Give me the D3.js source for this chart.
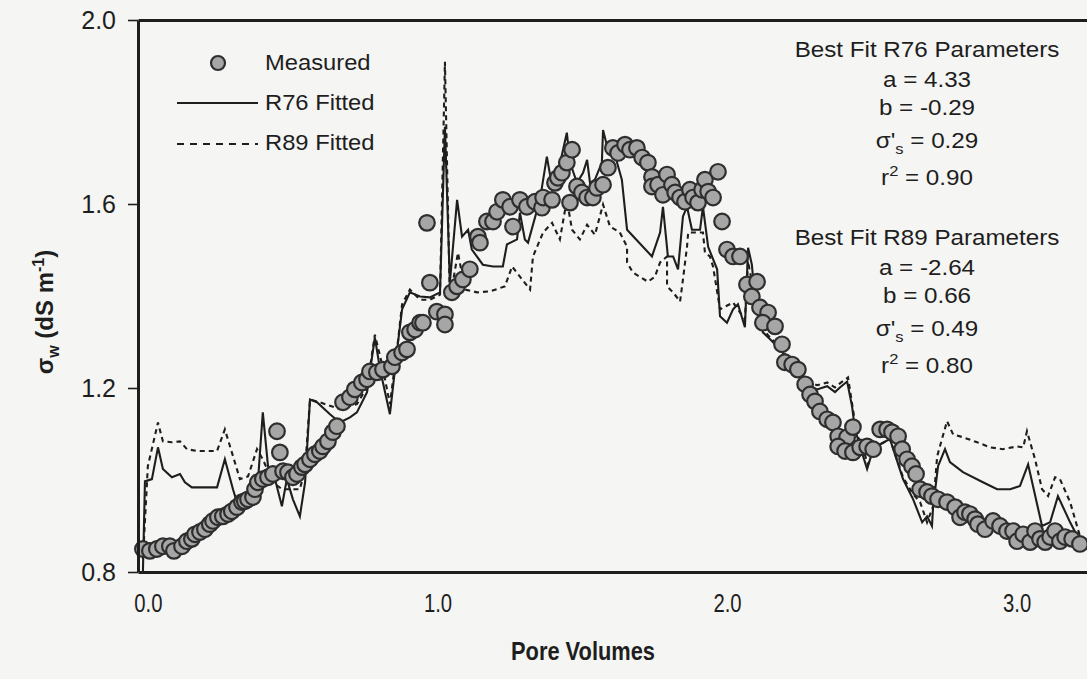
<!DOCTYPE html>
<html>
<head>
<meta charset="utf-8">
<script src="https://cdn.jsdelivr.net/npm/d3@7"></script>
<style>
body { margin: 0; background: #f5f5f3; }
svg { font-family: Arial, "Liberation Sans", sans-serif; }
</style>
</head>
<body>
<div id="chart"></div>
<script>
// measured sigma_w vs pore volumes
var measuredPV = [0.000,0.024,0.048,0.069,0.093,0.107,0.135,0.152,0.169,0.180,
	0.197,0.214,0.231,0.242,0.259,0.276,0.294,0.307,0.325,0.342,
	0.352,0.363,0.380,0.387,0.397,0.414,0.432,0.449,0.463,0.473,
	0.484,0.501,0.518,0.532,0.549,0.560,0.577,0.594,0.611,0.622,
	0.639,0.656,0.670,0.691,0.715,0.732,0.756,0.774,0.784,0.808,
	0.829,0.860,0.870,0.895,0.912,0.922,0.940,0.957,0.967,0.981,
	0.991,1.015,1.043,1.043,1.067,1.085,1.105,1.129,1.157,1.164,
	1.188,1.209,1.223,1.243,1.268,1.278,1.302,1.326,1.354,1.378,
	1.382,1.413,1.423,1.433,1.447,1.464,1.482,1.475,1.499,1.516,
	1.534,1.554,1.568,1.589,1.606,1.623,1.641,1.665,1.682,1.706,
	1.724,1.744,1.758,1.758,1.779,1.796,1.810,1.827,1.838,1.855,
	1.872,1.889,1.900,1.917,1.931,1.941,1.952,1.969,1.986,2.000,
	2.017,2.038,2.062,2.086,2.103,2.121,2.131,2.159,2.141,2.183,
	2.207,2.217,2.242,2.262,2.287,2.304,2.321,2.338,2.363,2.383,
	2.401,2.432,2.452,2.401,2.425,2.452,2.477,2.501,2.522,2.546,
	2.570,2.587,2.608,2.622,2.639,2.656,2.670,2.684,2.708,2.725,
	2.746,2.777,2.805,2.822,2.839,2.856,2.874,2.884,2.908,2.936,
	2.960,2.984,3.005,3.019,3.040,3.064,3.081,3.098,3.116,3.133,
	3.150,3.167,3.185,3.209,3.236];
var measuredEC = [0.850,0.846,0.850,0.856,0.856,0.846,0.856,0.867,0.872,0.882,
	0.887,0.893,0.904,0.911,0.919,0.921,0.926,0.932,0.941,0.952,
	0.954,0.958,0.963,0.980,0.995,1.002,1.006,1.013,1.106,1.060,
	1.019,1.017,1.006,1.013,1.028,1.034,1.045,1.056,1.063,1.073,
	1.084,1.104,1.117,1.169,1.180,1.197,1.212,1.219,1.236,1.234,
	1.240,1.247,1.267,1.277,1.284,1.321,1.327,1.342,1.342,1.559,
	1.429,1.366,1.360,1.338,1.408,1.421,1.436,1.458,1.529,1.516,
	1.562,1.562,1.583,1.609,1.594,1.551,1.609,1.594,1.605,1.592,
	1.614,1.609,1.646,1.657,1.668,1.690,1.718,1.603,1.638,1.625,
	1.614,1.614,1.635,1.642,1.679,1.722,1.711,1.729,1.718,1.722,
	1.701,1.690,1.659,1.638,1.642,1.620,1.664,1.642,1.625,1.614,
	1.605,1.631,1.614,1.603,1.631,1.653,1.627,1.614,1.670,1.562,
	1.501,1.486,1.486,1.425,1.399,1.431,1.375,1.364,1.342,1.334,
	1.295,1.256,1.251,1.240,1.208,1.186,1.171,1.149,1.132,1.125,
	1.095,1.093,1.115,1.073,1.063,1.060,1.071,1.073,1.067,1.110,
	1.110,1.104,1.095,1.067,1.045,1.030,1.013,0.980,0.974,0.965,
	0.958,0.952,0.941,0.919,0.930,0.926,0.915,0.904,0.893,0.911,
	0.900,0.889,0.889,0.867,0.882,0.865,0.889,0.872,0.865,0.876,
	0.889,0.867,0.876,0.872,0.861];

// R76 fitted (solid)
var r76PV = [0.000,0.007,0.031,0.052,0.069,0.100,0.128,0.145,0.169,0.256,
	0.283,0.311,0.335,0.370,0.397,0.414,0.432,0.456,0.480,0.497,
	0.518,0.542,0.560,0.577,0.601,0.646,0.680,0.715,0.739,0.774,
	0.801,0.819,0.853,0.881,0.895,0.922,0.957,0.991,1.026,1.043,
	1.060,1.085,1.102,1.123,1.136,1.174,1.209,1.243,1.257,1.292,
	1.302,1.319,1.330,1.371,1.395,1.413,1.430,1.464,1.475,1.499,
	1.520,1.534,1.544,1.561,1.585,1.589,1.606,1.630,1.654,1.672,
	1.758,1.786,1.796,1.813,1.831,1.848,1.865,1.879,1.896,1.924,
	1.934,1.952,1.983,1.993,2.017,2.038,2.055,2.079,2.090,2.103,
	2.114,2.141,2.166,2.207,2.235,2.280,2.328,2.363,2.390,2.407,
	2.432,2.449,2.459,2.487,2.501,2.522,2.546,2.580,2.625,2.660,
	2.691,2.708,2.725,2.729,2.746,2.770,2.787,2.832,2.901,2.950,
	2.995,3.029,3.057,3.105,3.133,3.160,3.202,3.236];
var r76EC = [0.800,0.997,1.002,1.071,1.024,1.006,1.013,0.995,0.984,0.984,
	1.045,0.980,0.930,0.948,0.995,1.147,1.030,1.002,0.943,1.002,
	0.958,0.921,0.995,1.175,1.169,1.143,1.125,1.136,1.147,1.191,
	1.310,1.240,1.143,1.299,1.371,1.408,1.399,1.397,1.408,1.768,
	1.429,1.609,1.529,1.544,1.501,1.468,1.464,1.464,1.512,1.523,
	1.581,1.523,1.516,1.609,1.703,1.638,1.659,1.755,1.690,1.646,
	1.668,1.696,1.646,1.653,1.690,1.761,1.718,1.707,1.653,1.544,
	1.486,1.538,1.594,1.486,1.486,1.458,1.573,1.594,1.544,1.544,
	1.594,1.507,1.458,1.356,1.342,1.371,1.382,1.332,1.505,1.468,
	1.392,1.321,1.306,1.280,1.251,1.212,1.197,1.204,1.191,1.201,
	1.214,1.160,1.110,1.052,1.024,1.067,1.078,1.089,1.002,0.958,
	0.908,0.921,0.900,0.943,1.030,1.067,1.039,1.017,0.995,0.980,
	0.980,0.987,1.034,0.900,0.908,0.965,0.908,0.867];

// R89 fitted (dashed)
var r89PV = [0.000,0.017,0.052,0.069,0.100,0.128,0.152,0.187,0.256,0.283,
	0.311,0.335,0.363,0.394,0.414,0.449,0.480,0.542,0.560,0.577,
	0.611,0.680,0.739,0.774,0.801,0.826,0.853,0.881,0.895,0.922,
	0.957,0.991,1.026,1.043,1.060,1.088,1.112,1.154,1.199,1.250,
	1.275,1.302,1.337,1.347,1.382,1.413,1.440,1.464,1.482,1.509,
	1.534,1.561,1.589,1.613,1.647,1.672,1.672,1.692,1.744,1.768,
	1.786,1.810,1.810,1.831,1.855,1.862,1.879,1.883,1.934,1.941,
	1.958,1.969,1.993,2.038,2.079,2.090,2.114,2.141,2.166,2.207,
	2.235,2.280,2.328,2.363,2.390,2.407,2.435,2.452,2.466,2.487,
	2.504,2.528,2.580,2.625,2.660,2.684,2.708,2.729,2.743,2.777,
	2.798,2.832,2.881,2.926,2.970,3.019,3.040,3.053,3.081,3.105,
	3.126,3.150,3.167,3.202,3.236];
var r89EC = [0.828,1.030,1.125,1.084,1.082,1.084,1.067,1.063,1.063,1.110,
	1.052,1.002,1.008,1.067,1.045,0.995,0.980,0.980,1.024,1.175,
	1.169,1.154,1.165,1.201,1.316,1.251,1.165,1.303,1.382,1.414,
	1.392,1.392,1.403,1.909,1.392,1.494,1.414,1.408,1.410,1.421,
	1.464,1.442,1.414,1.486,1.538,1.559,1.523,1.609,1.544,1.523,
	1.555,1.533,1.599,1.551,1.538,1.507,1.473,1.451,1.431,1.442,
	1.473,1.486,1.421,1.408,1.388,1.421,1.507,1.538,1.538,1.494,
	1.486,1.464,1.371,1.386,1.349,1.475,1.392,1.327,1.310,1.284,
	1.258,1.219,1.206,1.212,1.201,1.210,1.223,1.154,1.099,1.067,
	1.034,1.071,1.089,1.006,0.969,0.952,0.908,0.943,1.052,1.128,
	1.099,1.093,1.082,1.071,1.067,1.073,1.071,1.106,1.045,0.980,
	0.965,1.006,1.002,0.952,0.878];

var xTicks = [0, 1, 2, 3];
var yTicks = [0.8, 1.2, 1.6, 2.0];
var legendLabels = ["Measured", "R76 Fitted", "R89 Fitted"];
var paramTitles = ["Best Fit R76 Parameters", "Best Fit R89 Parameters"];
var paramA = ["4.33", "-2.64"];
var paramB = ["-0.29", "0.66"];
var paramSigma = ["0.29", "0.49"];
var paramR2 = ["0.90", "0.80"];

var cfg = {
	w: 1087,
	h: 679,
	left: 138, right: 1095, top: 20, bottom: 572,
	ink: "#1e1e1e",
	dots: "#a6a6a6"
};

var svg = d3.select("#chart").append("svg")
	.attr("width", cfg.w)
	.attr("height", cfg.h);

var x = d3.scaleLinear().domain([-0.017, 3.288]).range([cfg.left, cfg.right]);
var y = d3.scaleLinear().domain([0.8, 2.0]).range([cfg.bottom, cfg.top]);

// fitted lines first, dots on top
var line = d3.line()
	.x(function(d) { return x(d[0]); })
	.y(function(d) { return y(d[1]); });

svg.append("path")
	.datum(d3.zip(r89PV, r89EC))
	.attr("fill", "none")
	.attr("stroke", cfg.ink)
	.attr("stroke-width", 2.1)
	.attr("stroke-dasharray", "5,4")
	.attr("d", line);

svg.append("path")
	.datum(d3.zip(r76PV, r76EC))
	.attr("fill", "none")
	.attr("stroke", cfg.ink)
	.attr("stroke-width", 2.1)
	.attr("d", line);

svg.append("g").selectAll("circle")
	.data(d3.zip(measuredPV, measuredEC))
	.enter().append("circle")
	.attr("cx", function(d) { return x(d[0]); })
	.attr("cy", function(d) { return y(d[1]); })
	.attr("r", 7.8)
	.attr("fill", cfg.dots)
	.attr("stroke", "#2e2e2e")
	.attr("stroke-width", 2.2);

// axes / frame
var yAxis = svg.append("g")
	.attr("transform", "translate(" + cfg.left + ",0)")
	.call(d3.axisLeft(y).tickValues(yTicks).tickFormat(d3.format(".1f"))
		.tickSize(10).tickSizeOuter(0).tickPadding(12));
yAxis.selectAll("text").attr("font-size", 25).attr("fill", cfg.ink).attr("font-family", "Arial, 'Liberation Sans', sans-serif");

var xAxis = svg.append("g")
	.attr("transform", "translate(0," + cfg.bottom + ")")
	.call(d3.axisBottom(x).tickValues(xTicks).tickFormat(d3.format(".1f"))
		.tickSize(0).tickSizeOuter(0).tickPadding(22));
xAxis.selectAll("text")
	.attr("font-size", 26).attr("fill", cfg.ink)
	.attr("font-family", "Arial, 'Liberation Sans', sans-serif")
	.attr("transform", "translate(5,0) scale(0.78,1)");

svg.append("g")
	.attr("transform", "translate(0," + cfg.top + ")")
	.call(d3.axisTop(x).tickValues([]).tickSizeOuter(0));

svg.selectAll(".domain").attr("stroke", cfg.ink).attr("stroke-width", 3);
svg.selectAll(".tick line").attr("stroke", cfg.ink).attr("stroke-width", 1.6);

// axis titles
svg.append("text")
	.attr("transform", "translate(583,660) scale(0.84,1)")
	.attr("text-anchor", "middle")
	.attr("font-size", 26)
	.attr("font-weight", "bold")
	.attr("fill", cfg.ink)
	.text("Pore Volumes");

var yt = svg.append("text")
	.attr("transform", "translate(53,312) rotate(-90)")
	.attr("text-anchor", "middle")
	.attr("font-size", 24)
	.attr("font-weight", "bold")
	.attr("fill", cfg.ink);
yt.append("tspan").text("σ");
yt.append("tspan").attr("dy", 6).attr("font-size", 16).text("w");
yt.append("tspan").attr("dy", -6).text(" (dS m");
yt.append("tspan").attr("dy", -9).attr("font-size", 16).text("-1");
yt.append("tspan").attr("dy", 9).text(")");

// legend
var lg = svg.append("g").attr("fill", cfg.ink).attr("font-size", 22);
lg.append("circle").attr("cx", 218).attr("cy", 63).attr("r", 7)
	.attr("fill", cfg.dots).attr("stroke", "#2e2e2e").attr("stroke-width", 2.2);
lg.append("line").attr("x1", 177).attr("x2", 258).attr("y1", 103).attr("y2", 103)
	.attr("stroke", cfg.ink).attr("stroke-width", 2.2);
lg.append("line").attr("x1", 177).attr("x2", 258).attr("y1", 144).attr("y2", 144)
	.attr("stroke", cfg.ink).attr("stroke-width", 2.2).attr("stroke-dasharray", "7,6");
legendLabels.forEach(function(t, i) {
	lg.append("text")
		.attr("transform", "translate(265," + (70 + i * 40) + ") scale(1.08,1)")
		.text(t);
});

// parameter blocks
paramTitles.forEach(function(t, i) {
	var g = svg.append("g")
		.attr("transform", "translate(927," + (57 + i * 188) + ") scale(1.1,1)")
		.attr("text-anchor", "middle")
		.attr("font-size", 22)
		.attr("fill", cfg.ink);
	g.append("text").attr("y", 0).text(t);
	g.append("text").attr("y", 30).text("a = " + paramA[i]);
	g.append("text").attr("y", 58).text("b = " + paramB[i]);
	var s = g.append("text").attr("y", 91);
	s.append("tspan").text("σ'");
	s.append("tspan").attr("dy", 6).attr("font-size", 15).text("s");
	s.append("tspan").attr("dy", -6).text(" = " + paramSigma[i]);
	var r = g.append("text").attr("y", 128);
	r.append("tspan").text("r");
	r.append("tspan").attr("dy", -9).attr("font-size", 15).text("2");
	r.append("tspan").attr("dy", 9).text(" = " + paramR2[i]);
});
</script>
</body>
</html>
